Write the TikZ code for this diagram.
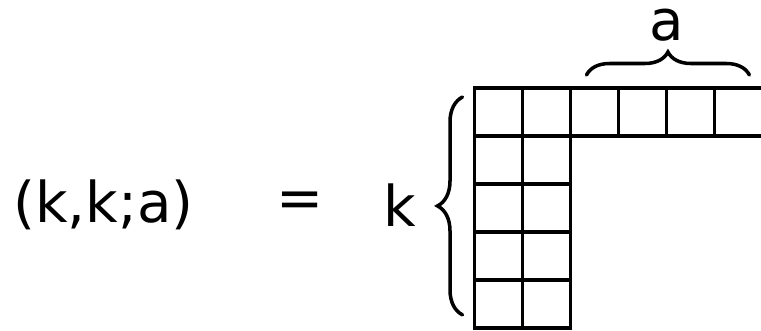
\documentclass[tikz,border=0pt]{standalone}
\usepackage{fontspec}
\setsansfont{DejaVu Sans}
\usepackage{tikz}
\usetikzlibrary{positioning, decorations.pathreplacing}

\begin{document}
\begin{tikzpicture}[
      cell/.style={draw, line width=2.2pt, minimum size=0.96cm, inner sep=0pt,
                   anchor=north west},
      txt/.style={font=\sffamily\fontsize{32}{38}\selectfont, inner sep=0pt},
      brc/.style={decorate, line width=2pt, line cap=round,
                  decoration={brace, amplitude=0.46cm}}]

    \useasboundingbox (0,0) rectangle (15.22,6.6);

    % ============================================
    % left-hand side
    % ============================================
    \node[txt, anchor=west] (lhs) at (0.26, 2.5) {(k,k;a)};
    \node[txt] (eq) at (6.0, 2.5) {=};

    % ============================================
    % Young diagram: first row of 6, then 4 rows of 2
    % ============================================
    \foreach \c in {1,...,6} {
        \node[cell] (c1\c) at ({9.45+0.96*(\c-1)}, 4.88) {};
    }
    \foreach \r in {2,...,5} {
        \foreach \c in {1,2} {
            \node[cell] (c\r\c) at ({9.45+0.96*(\c-1)}, {4.88-0.96*(\r-1)}) {};
        }
    }

    % braces
    \coordinate[above=0.22cm of c13.north west, xshift=0.36cm] (a0);
    \coordinate[above=0.22cm of c16.north east, xshift=-0.3cm] (a1);
    \draw[brc] (a0) -- (a1);
    \node[txt] (lbla) at (13.34, 6.1) {a};

    \coordinate[left=0.2cm of c51.south west, yshift=0.3cm] (k0);
    \coordinate[left=0.2cm of c11.north west, yshift=-0.22cm] (k1);
    \draw[brc, decoration={amplitude=0.5cm}] (k0) -- (k1);
    \node[txt] (lblk) at (8.0, 2.5) {k};

\end{tikzpicture}
\end{document}
